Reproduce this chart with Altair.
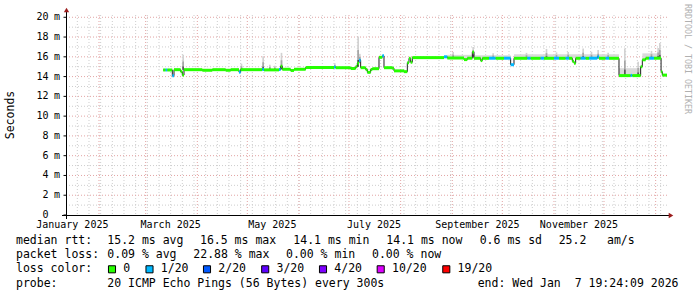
import altair as alt
import pandas as pd

FONT = "DejaVu Sans Mono"
W, H = 600, 200
START = "2025-01-12T19:24:09"
END = "2026-01-07T19:24:09"

# ---------------- data ----------------
# median RTT (ms) as step segments, with loss class
seg_start = [
    "2025-03-11T12:00", "2025-03-13", "2025-03-14", "2025-03-17", "2025-03-18",
    "2025-03-22", "2025-03-23", "2025-03-24", "2025-04-04", "2025-04-10",
    "2025-04-18", "2025-04-21", "2025-04-26", "2025-04-27", "2025-05-10",
    "2025-05-11", "2025-05-20", "2025-05-21", "2025-05-22", "2025-05-27",
    "2025-05-29", "2025-06-05", "2025-06-22", "2025-06-23", "2025-07-02",
    "2025-07-05", "2025-07-06", "2025-07-07", "2025-07-08", "2025-07-11",
    "2025-07-12", "2025-07-14", "2025-07-15", "2025-07-19", "2025-07-21",
    "2025-07-22", "2025-07-27", "2025-07-28", "2025-08-03", "2025-08-05",
    "2025-08-06", "2025-08-07", "2025-08-08", "2025-08-27", "2025-08-29",
    "2025-09-08", "2025-09-10", "2025-09-13", "2025-09-14", "2025-09-18",
    "2025-09-19", "2025-09-23", "2025-09-27", "2025-10-02", "2025-10-06",
    "2025-10-08", "2025-10-16", "2025-10-18", "2025-10-24", "2025-10-26",
    "2025-11-01", "2025-11-04", "2025-11-08", "2025-11-10", "2025-11-12",
    "2025-11-13", "2025-11-14", "2025-11-17", "2025-11-20", "2025-11-22",
    "2025-11-27", "2025-11-28", "2025-12-02", "2025-12-04", "2025-12-10",
    "2025-12-17", "2025-12-18", "2025-12-23", "2025-12-24", "2025-12-26",
    "2025-12-28", "2025-12-31", "2026-01-04T06:00", "2026-01-05",
]
seg_value = [
    14.67, 14.67, 14.67, 14.08, 14.70,
    14.50, 14.15, 14.70, 14.64, 14.70,
    14.64, 14.70, 14.45, 14.70, 14.72,
    14.68, 14.72, 15.05, 14.74, 14.62,
    14.74, 14.92, 14.95, 14.90, 14.82,
    15.00, 15.35, 15.65, 14.90, 14.72,
    14.43, 14.72, 14.80, 15.95, 16.10,
    14.90, 14.85, 14.58, 14.50, 15.40,
    15.85, 15.45, 15.92, 16.00, 15.88,
    15.72, 15.86, 16.50, 15.85, 15.62,
    15.85, 15.86, 15.85, 15.86, 15.20,
    15.85, 15.86, 15.85, 15.86, 15.85,
    15.86, 15.85, 15.86, 15.85, 15.55,
    15.35, 15.85, 15.86, 15.85, 15.86,
    16.00, 15.85, 15.86, 15.85, 14.10,
    14.12, 14.10, 15.00, 15.70, 15.86,
    15.86, 15.86, 14.50, 14.15,
]
seg_loss = [
    "0", "1/20", "0", "1/20", "0",
    "0", "0", "0", "0", "0",
    "0", "0", "1/20", "0", "1/20",
    "0", "1/20", "0", "0", "0",
    "0", "0", "1/20", "0", "0",
    "0", "0", "1/20", "0", "0",
    "0", "0", "0", "0", "1/20",
    "0", "0", "0", "0", "0",
    "0", "0", "0", "1/20", "0",
    "0", "0", "0", "0", "0",
    "0", "1/20", "0", "1/20", "1/20",
    "0", "1/20", "0", "1/20", "0",
    "1/20", "0", "1/20", "0", "0",
    "0", "0", "1/20", "0", "1/20",
    "1/20", "0", "1/20", "0", "0",
    "1/20", "0", "0", "0", "0",
    "1/20", "0", "0", "0",
]

# broad smoke bands (ms)
band_start = ["2025-08-29", "2025-09-14", "2025-10-08", "2025-12-10", "2025-12-24"]
band_end = ["2025-09-13", "2025-10-06", "2025-12-10", "2025-12-23", "2026-01-04"]
band_lo = [15.88, 15.85, 15.85, 14.10, 15.85]
band_hi = [16.20, 16.15, 16.25, 14.85, 16.35]

# smoke spikes (ms)
spike_date = [
    "2025-03-23", "2025-04-27", "2025-05-10", "2025-05-14", "2025-05-17",
    "2025-05-21", "2025-06-22", "2025-07-06", "2025-07-07", "2025-09-01",
    "2025-09-13", "2025-09-25", "2025-10-15", "2025-10-27", "2025-11-02",
    "2025-11-09", "2025-11-18", "2025-11-23", "2025-11-27", "2025-12-03",
    "2025-12-13", "2025-12-21", "2025-12-29", "2026-01-02", "2026-01-03",
]
spike_lo = [
    14.70, 14.70, 14.70, 14.70, 14.70,
    14.74, 14.90, 15.00, 15.60, 15.88,
    16.00, 15.85, 15.85, 15.85, 15.85,
    15.85, 15.85, 15.85, 15.85, 15.85,
    14.10, 14.10, 15.85, 15.85, 15.85,
]
spike_hi = [
    16.20, 15.30, 16.05, 15.20, 15.10,
    16.40, 15.35, 18.05, 16.30, 16.50,
    17.00, 16.35, 16.40, 16.80, 16.45,
    16.50, 16.85, 16.50, 16.70, 16.40,
    16.85, 15.50, 16.60, 16.90, 17.40,
]

loss_names = ["0", "1/20", "2/20", "3/20", "4/20", "10/20", "19/20"]
loss_colors = ["#26ff00", "#00b8ff", "#0059ff", "#5e00ff", "#7e00ff", "#dd00ff", "#ff0000"]

y_ticks = [0, 2, 4, 6, 8, 10, 12, 14, 16, 18, 20]
y_minor = [1, 3, 5, 7, 9, 11, 13, 15, 17, 19]
x_label_dates = ["2025-01-16", "2025-03-16", "2025-05-16", "2025-07-16", "2025-09-16", "2025-11-16"]

ISO = "ISO8601"

# ---------------- frames ----------------
seg = pd.DataFrame({"start": pd.to_datetime(seg_start, format=ISO), "rtt": seg_value, "loss": seg_loss})
seg["end"] = list(seg["start"].iloc[1:]) + [pd.Timestamp(END)]
line_df = pd.DataFrame({
    "t": list(seg["start"]) + [pd.Timestamp(END)],
    "rtt": seg_value + [seg_value[-1]],
})
band = pd.DataFrame({"s": pd.to_datetime(band_start, format=ISO), "e": pd.to_datetime(band_end, format=ISO),
                     "lo": band_lo, "hi": band_hi})
spk = pd.DataFrame({"s": pd.to_datetime(spike_date, format=ISO), "lo": spike_lo, "hi": spike_hi})
spk["e"] = spk["s"] + pd.Timedelta(days=1)
spk["mid"] = spk["lo"] + 0.55 * (spk["hi"] - spk["lo"])
spk["low"] = spk["lo"] + 0.22 * (spk["hi"] - spk["lo"])

xminor = pd.DataFrame({"t": pd.date_range("2025-01-19", "2026-01-04", freq="7D")})
xmajor = pd.DataFrame({"t": pd.date_range("2025-02-01", "2026-01-01", freq="MS")})
yminor = pd.DataFrame({"v": y_minor})
ymajor = pd.DataFrame({"v": y_ticks[1:]})
ylab = pd.DataFrame({"v": y_ticks, "num": [str(v) for v in y_ticks]})
yunit = pd.DataFrame({"v": y_ticks[1:]})
xl = pd.to_datetime(x_label_dates, format=ISO)
xlab = pd.DataFrame({"t": xl, "lab": [d.strftime("%B %Y") for d in xl]})

def dt(s):
    t = pd.Timestamp(s)
    return alt.DateTime(year=t.year, month=t.month, date=t.day,
                        hours=t.hour, minutes=t.minute, seconds=t.second)

xscale = alt.Scale(domain=[dt(START), dt(END)])
yscale = alt.Scale(domain=[0, 20.23], nice=False, zero=False)

def X(f):
    return alt.X(f, type="temporal", scale=xscale, axis=None, title=None)

def Y(f):
    return alt.Y(f, type="quantitative", scale=yscale, axis=None, title=None)

GRAY = "#cdcdcd"
RED = "#e2a4a4"
DASH = [1, 2]

layers = []
# grid
layers.append(alt.Chart(yminor).mark_rule(color=GRAY, strokeDash=DASH, strokeWidth=1).encode(y=Y("v")))
layers.append(alt.Chart(xminor).mark_rule(color=GRAY, strokeDash=DASH, strokeWidth=1).encode(x=X("t")))
layers.append(alt.Chart(ymajor).mark_rule(color=RED, strokeDash=DASH, strokeWidth=1).encode(y=Y("v")))
layers.append(alt.Chart(xmajor).mark_rule(color=RED, strokeDash=DASH, strokeWidth=1).encode(x=X("t")))
# axis labels and ticks (through the scales)
layers.append(alt.Chart(ylab).mark_rule(color="black", strokeWidth=1).encode(
    y=Y("v"), x=alt.value(-3.5), x2=alt.value(0)))
layers.append(alt.Chart(ylab).mark_text(font=FONT, fontSize=10, color="black", align="right",
                                         baseline="middle").encode(
    y=Y("v"), x=alt.value(-18.5), text="num:N"))
layers.append(alt.Chart(yunit).mark_text(font=FONT, fontSize=10, color="black", align="left",
                                          baseline="middle", text="m").encode(
    y=Y("v"), x=alt.value(-13)))
layers.append(alt.Chart(xlab).mark_text(font=FONT, fontSize=10, color="black", align="center",
                                         baseline="middle").encode(
    x=X("t"), y=alt.value(209.5), text="lab:N"))
# smoke
layers.append(alt.Chart(band).mark_rect(color="#dadada").encode(x=X("s"), x2="e", y=Y("lo"), y2="hi"))
layers.append(alt.Chart(spk).mark_rect(color="#d2d2d2").encode(x=X("s"), x2="e", y=Y("lo"), y2="hi"))
layers.append(alt.Chart(spk).mark_rect(color="#a6a6a6").encode(x=X("s"), x2="e", y=Y("lo"), y2="mid"))
layers.append(alt.Chart(spk).mark_rect(color="#5a5a5a").encode(x=X("s"), x2="e", y=Y("lo"), y2="low"))
# median line (thin dark) and loss coloured segments
layers.append(alt.Chart(line_df).mark_line(interpolate="step-after", color="#202020", strokeWidth=1).encode(
    x=X("t"), y=Y("rtt")))
layers.append(alt.Chart(seg).mark_rule(strokeWidth=3).encode(
    x=X("start"), x2="end", y=Y("rtt"),
    color=alt.Color("loss:N", scale=alt.Scale(domain=loss_names, range=loss_colors), legend=None)))

one = alt.Data(values=[{}])
# axis lines and arrows
layers.append(alt.Chart(one).mark_rule(color="black", strokeWidth=1).encode(
    x=alt.value(-5), x2=alt.value(603), y=alt.value(200.5)))
layers.append(alt.Chart(one).mark_rule(color="black", strokeWidth=1).encode(
    x=alt.value(-0.5), y=alt.value(204), y2=alt.value(-5)))
layers.append(alt.Chart(one).mark_point(shape="triangle-right", filled=True, size=28, color="#9b1c1c", opacity=1).encode(
    x=alt.value(604), y=alt.value(200.5)))
layers.append(alt.Chart(one).mark_point(shape="triangle-up", filled=True, size=28, color="#9b1c1c", opacity=1).encode(
    x=alt.value(-0.5), y=alt.value(-5)))

# y title and watermark
layers.append(alt.Chart(one).mark_text(text="Seconds", angle=270, font=FONT, fontSize=11.5, color="black",
                                        align="center", baseline="middle").encode(x=alt.value(-56), y=alt.value(100)))
layers.append(alt.Chart(one).mark_text(text="RRDTOOL / TOBI OETIKER", angle=90, font=FONT, fontSize=8.3,
                                        color="#b0b0b0", align="center", baseline="middle").encode(
    x=alt.value(620), y=alt.value(44)))

# legend text
rows = [226.3, 240.3, 254.3, 268.7]
texts = [
    ("median rtt:", -51, rows[0]), ("15.2 ms avg", 40.3, rows[0]), ("16.5 ms max", 133, rows[0]),
    ("14.1 ms min", 226.3, rows[0]), ("14.1 ms now", 319.3, rows[0]), ("0.6 ms sd", 412.7, rows[0]),
    ("25.2", 491.7, rows[0]), ("am/s", 540, rows[0]),
    ("packet loss:", -51, rows[1]), ("0.09 % avg", 40.3, rows[1]), ("22.88 % max", 126.3, rows[1]),
    ("0.00 % min", 219, rows[1]), ("0.00 % now", 305, rows[1]),
    ("loss color:", -51, rows[2]),
    ("probe:", -51, rows[3]), ("20 ICMP Echo Pings (56 Bytes) every 300s", 40.3, rows[3]),
    ("end: Wed Jan\u00a0 7 19:24:09 2026", 410.7, rows[3]),
]
for t, x, y in texts:
    layers.append(alt.Chart(one).mark_text(text=t, font=FONT, fontSize=11.5, color="black",
                                            align="left", baseline="middle").encode(x=alt.value(x), y=alt.value(y)))

box_x = [45, 82.5, 140, 198.2, 256, 313.7, 379.3]
for name, col, bx in zip(loss_names, loss_colors, box_x):
    layers.append(alt.Chart(one).mark_square(filled=True, fill=col, stroke="black", strokeWidth=1,
                                              size=50, opacity=1).encode(x=alt.value(bx), y=alt.value(rows[2])))
    layers.append(alt.Chart(one).mark_text(text=name, font=FONT, fontSize=11.5, color="black",
                                            align="left", baseline="middle").encode(
        x=alt.value(bx + 11.3), y=alt.value(rows[2])))

chart = alt.layer(*layers).properties(
    width=W, height=H,
    autosize=alt.AutoSizeParams(type="none"),
    padding={"left": 67, "top": 15, "right": 30, "bottom": 82},
    background="white",
).configure_view(stroke=None)

chart.save("out.html", embed_options={"renderer": "svg", "actions": False})
